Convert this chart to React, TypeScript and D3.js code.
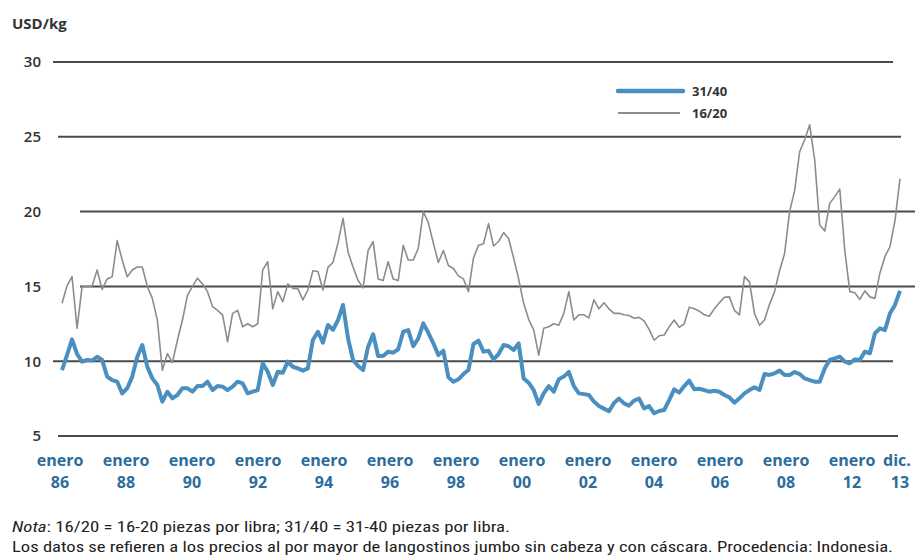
import { useMemo } from 'react';
import * as d3 from 'd3';

// Precios mensuales (muestra bimestral), enero 1986 - diciembre 2013, USD/kg
const gray16_20 = [
  13.87, 15.03, 15.65, 12.2, 14.98, 15.0, 15.03, 16.1, 14.8, 15.5,
  15.65, 18.06, 16.76, 15.65, 16.1, 16.3, 16.3, 15.0, 14.2, 12.75,
  9.4, 10.5, 9.9, 11.4, 12.75, 14.4, 15.0, 15.55, 15.16, 14.65,
  13.65, 13.4, 13.1, 11.3, 13.2, 13.4, 12.3, 12.5, 12.3, 12.5,
  16.1, 16.65, 13.5, 14.65, 13.98, 15.16, 14.87, 14.85, 14.1, 14.76,
  16.05, 16.0, 14.76, 16.27, 16.6, 17.9, 19.55, 17.3, 16.3, 15.4,
  14.9, 17.4, 18.0, 15.5, 15.4, 16.65, 15.5, 15.4, 17.75, 16.76,
  16.76, 17.55, 20.0, 19.26, 17.9, 16.6, 17.4, 16.4, 16.2, 15.7,
  15.5, 14.65, 16.9, 17.75, 17.85, 19.2, 17.7, 18.0, 18.6, 18.2,
  16.9, 15.5, 13.87, 12.8, 12.1, 10.4, 12.2, 12.3, 12.5, 12.4,
  13.2, 14.65, 12.75, 13.1, 13.1, 12.9, 14.1, 13.5, 13.9, 13.5,
  13.2, 13.2, 13.1, 13.05, 12.87, 12.93, 12.7, 12.13, 11.4, 11.7,
  11.75, 12.3, 12.75, 12.26, 12.5, 13.6, 13.5, 13.35, 13.1, 13.0,
  13.5, 13.9, 14.27, 14.3, 13.4, 13.1, 15.65, 15.3, 13.2, 12.4,
  12.75, 13.8, 14.65, 16.05, 17.2, 20.0, 21.4, 24.0, 24.8, 25.8,
  23.45, 19.1, 18.7, 20.55, 21.0, 21.5, 17.4, 14.65, 14.58, 14.13,
  14.7, 14.3, 14.2, 15.9, 17.0, 17.65, 19.4, 22.2,
];

const blue31_40 = [
  9.41, 10.41, 11.46, 10.48, 9.97, 10.08, 10.04, 10.3, 10.08, 8.97,
  8.74, 8.63, 7.85, 8.19, 8.97, 10.3, 11.08, 9.63, 8.85, 8.41,
  7.3, 7.96, 7.52, 7.74, 8.19, 8.19, 7.96, 8.34, 8.34, 8.63,
  8.07, 8.34, 8.3, 8.07, 8.3, 8.63, 8.52, 7.85, 7.96, 8.07,
  9.86, 9.3, 8.41, 9.3, 9.23, 9.97, 9.63, 9.52, 9.37, 9.52,
  11.42, 11.97, 11.24, 12.42, 12.1, 12.75, 13.76, 11.53, 10.08, 9.68,
  9.41, 10.97, 11.8, 10.35, 10.35, 10.64, 10.57, 10.8, 11.97, 12.08,
  11.0, 11.53, 12.53, 11.9, 11.2, 10.41, 10.7, 8.92, 8.63, 8.79,
  9.14, 9.41, 11.15, 11.37, 10.64, 10.7, 10.12, 10.48, 11.08, 11.0,
  10.75, 11.19, 8.85, 8.56, 8.07, 7.14, 7.85, 8.34, 7.96, 8.79,
  8.97, 9.28, 8.34, 7.85, 7.8, 7.74, 7.3, 7.0, 6.83, 6.65,
  7.2, 7.5, 7.18, 7.03, 7.36, 7.5, 6.85, 7.0, 6.52, 6.67,
  6.74, 7.4, 8.12, 7.9, 8.34, 8.7, 8.12, 8.16, 8.07, 7.96,
  8.03, 7.96, 7.74, 7.58, 7.23, 7.52, 7.85, 8.07, 8.25, 8.07,
  9.14, 9.08, 9.19, 9.37, 9.08, 9.08, 9.28, 9.14, 8.85, 8.74,
  8.63, 8.63, 9.52, 10.08, 10.19, 10.3, 9.97, 9.86, 10.12, 10.08,
  10.64, 10.53, 11.86, 12.2, 12.08, 13.2, 13.76, 14.7,
];

const yTicks = [5, 10, 15, 20, 25, 30];
const xYears = ['86', '88', '90', '92', '94', '96', '98', '00', '02', '04', '06', '08', '12'];
const lastLabel = ['dic.', '13'];
const legendItems = ['31/40', '16/20'];

// gridline extents (the source draws them unevenly)
const gridExtent: Record<number, [number, number]> = {
  5: [58, 898],
  10: [53, 893],
  15: [80, 915],
  20: [80, 915],
  25: [58, 901],
  30: [53, 893],
};

const BLUE = '#4a8fc0';
const GRAY = '#8c8c8c';
const LABEL_BLUE = '#2b6d9c';
const FONT = "'Open Sans', 'Noto Sans', sans-serif";
const NOTE_FONT = "'Liberation Sans Narrow', 'Roboto Condensed', 'Open Sans', sans-serif";

const App = () => {
  const width = 915;
  const height = 557;

  const x = useMemo(
    () => d3.scaleLinear().domain([0, gray16_20.length - 1]).range([62, 900]),
    []
  );
  const y = useMemo(() => d3.scaleLinear().domain([5, 30]).range([436, 62]), []);
  const xLabels = useMemo(
    () => d3.scalePoint<string>().domain(xYears).range([60, 852]),
    []
  );

  const line = d3
    .line<number>()
    .x((_, i) => x(i))
    .y((d) => y(d));

  return (
    <svg
      width={width}
      height={height}
      style={{ position: 'absolute', left: 0, top: 0, background: '#fff' }}
      fontFamily={FONT}
    >
      <text x={12} y={29} fontSize={15} fontWeight={700} fill="#333">
        USD/kg
      </text>

      {/* grid + y labels */}
      {yTicks.map((t) => (
        <g key={t}>
          <line
            x1={gridExtent[t][0]}
            x2={gridExtent[t][1]}
            y1={y(t)}
            y2={y(t)}
            stroke="#4a4a4a"
            strokeWidth={2}
          />
          <text
            x={41}
            y={y(t)}
            dy="0.36em"
            textAnchor="end"
            fontSize={15}
            fontWeight={600}
            fill="#333"
          >
            {t}
          </text>
        </g>
      ))}

      {/* series */}
      <path d={line(gray16_20) || ''} fill="none" stroke={GRAY} strokeWidth={1.6} strokeLinejoin="round" />
      <path d={line(blue31_40) || ''} fill="none" stroke={BLUE} strokeWidth={4} strokeLinejoin="round" />

      {/* legend */}
      <g>
        <line x1={618} x2={683} y1={91} y2={91} stroke={BLUE} strokeWidth={4.5} strokeLinecap="round" />
        <line x1={618} x2={680} y1={113} y2={113} stroke={GRAY} strokeWidth={2} />
        {legendItems.map((d, i) => (
          <text key={d} x={692} y={91 + i * 22} dy="0.35em" fontSize={13} fontWeight={700} fill="#333">
            {d}
          </text>
        ))}
      </g>

      {/* x labels */}
      {xYears.map((yr) => (
        <g key={yr} fill={LABEL_BLUE} fontSize={16} fontWeight={700} textAnchor="middle">
          <text x={xLabels(yr)} y={466}>enero</text>
          <text x={xLabels(yr)} y={488}>{yr}</text>
        </g>
      ))}
      <g fill={LABEL_BLUE} fontSize={16} fontWeight={700} textAnchor="middle">
        <text x={x(gray16_20.length - 1) - 3} y={466}>{lastLabel[0]}</text>
        <text x={x(gray16_20.length - 1)} y={488}>{lastLabel[1]}</text>
      </g>

      {/* notes */}
      <g fontFamily={NOTE_FONT} fontSize={14} fill="#222">
        <text x={12} y={532} textLength={498} lengthAdjust="spacingAndGlyphs">
          <tspan fontStyle="italic">Nota</tspan>: 16/20 = 16-20 piezas por libra; 31/40 = 31-40 piezas por libra.
        </text>
        <text x={12} y={552} textLength={881} lengthAdjust="spacingAndGlyphs">
          Los datos se refieren a los precios al por mayor de langostinos jumbo sin cabeza y con cáscara. Procedencia: Indonesia.
        </text>
      </g>
    </svg>
  );
};

export default App;
